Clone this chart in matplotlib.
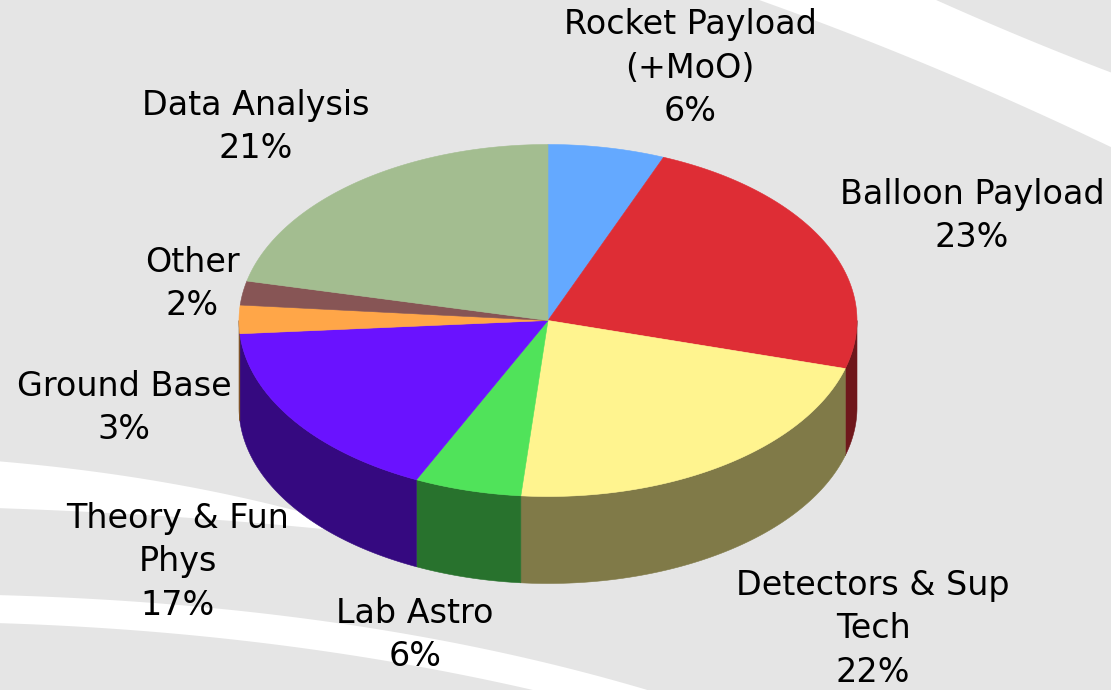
import numpy as np
import matplotlib.pyplot as plt
from matplotlib.patches import Polygon

# slice data, clockwise from 12 o'clock
categories = ["Rocket Payload\n(+MoO)", "Balloon Payload", "Detectors & Sup\nTech",
              "Lab Astro", "Theory & Fun\nPhys", "Ground Base", "Other", "Data Analysis"]
shares = [6.1, 23.3, 22.0, 5.6, 16.8, 2.6, 2.2, 21.4]
colors = ["#64A9FF", "#DE2D35", "#FFF48F", "#50E35A", "#6A12FF", "#FFA648", "#875555", "#A3BD90"]

# label centres in pixel coords (layout only)
label_xy = [(690, 68), (972, 216), (873, 629), (415, 635),
            (178, 562), (124, 408), (192, 284), (256, 127)]

W, H = 1111, 690
cx, cy = 548, 320.5
rx, ry = 309, 176
depth = 87
bg = "#E5E5E5"


def pt(t):
    # t measured clockwise from top
    return cx + rx * np.sin(t), cy - ry * np.cos(t)


def bezier(p0, p1, p2, n=60):
    s = np.linspace(0, 1, n)[:, None]
    p0, p1, p2 = map(np.array, (p0, p1, p2))
    return (1 - s) ** 2 * p0 + 2 * (1 - s) * s * p1 + s ** 2 * p2


def darker(c, f=0.5):
    c = c.lstrip("#")
    r, g, b = (int(c[i:i + 2], 16) for i in (0, 2, 4))
    return (r * f / 255, g * f / 255, b * f / 255)


fig = plt.figure(figsize=(W / 100, H / 100), dpi=100)
fig.patch.set_facecolor(bg)
ax = fig.add_axes([0, 0, 1, 1])
ax.set_xlim(0, W)
ax.set_ylim(H, 0)
ax.axis("off")

# white background swooshes
low = bezier((745, -5), (930, 60), (1115, 149))
up = bezier((925, -5), (1020, 38), (1115, 74))
ax.add_patch(Polygon(np.vstack([low, up[::-1]]), closed=True, fc="white", ec="none", zorder=0))

top_a = bezier((-5, 461), (200, 478), (370, 532))
bot_a = bezier((-5, 508), (200, 515), (370, 534))
ax.add_patch(Polygon(np.vstack([top_a, bot_a[::-1]]), closed=True, fc="white", ec="none", zorder=0))

top_b = bezier((-5, 595), (380, 605), (680, 700))
bot_b = bezier((-5, 623), (300, 632), (575, 700))
ax.add_patch(Polygon(np.vstack([top_b, bot_b[::-1]]), closed=True, fc="white", ec="none", zorder=0))

# slice angles
fr = np.array(shares) / np.sum(shares)
edges = np.concatenate([[0], np.cumsum(fr)]) * 2 * np.pi

# side walls (front half only)
for i, col in enumerate(colors):
    a0 = max(edges[i], np.pi / 2)
    a1 = min(edges[i + 1], 3 * np.pi / 2)
    if a1 <= a0:
        continue
    t = np.linspace(a0, a1, 80)
    x, y = pt(t)
    xs = np.concatenate([x, x[::-1]])
    ys = np.concatenate([y, y[::-1] + depth])
    side = darker(col)
    ax.add_patch(Polygon(np.column_stack([xs, ys]), closed=True, fc=side, ec=side,
                         lw=0.4, zorder=2))

# top faces
for i, col in enumerate(colors):
    t = np.linspace(edges[i], edges[i + 1], 120)
    x, y = pt(t)
    xs = np.concatenate([[cx], x])
    ys = np.concatenate([[cy], y])
    ax.add_patch(Polygon(np.column_stack([xs, ys]), closed=True, fc=col, ec=col,
                         lw=0.4, zorder=3))

# labels
for name, share, (lx, ly) in zip(categories, shares, label_xy):
    ax.text(lx, ly, f"{name}\n{share:.0f}%", ha="center", va="center",
            fontsize=24, family="DejaVu Sans", color="black",
            linespacing=1.4, zorder=5)

fig.savefig("out.png", dpi=100, facecolor=bg)
